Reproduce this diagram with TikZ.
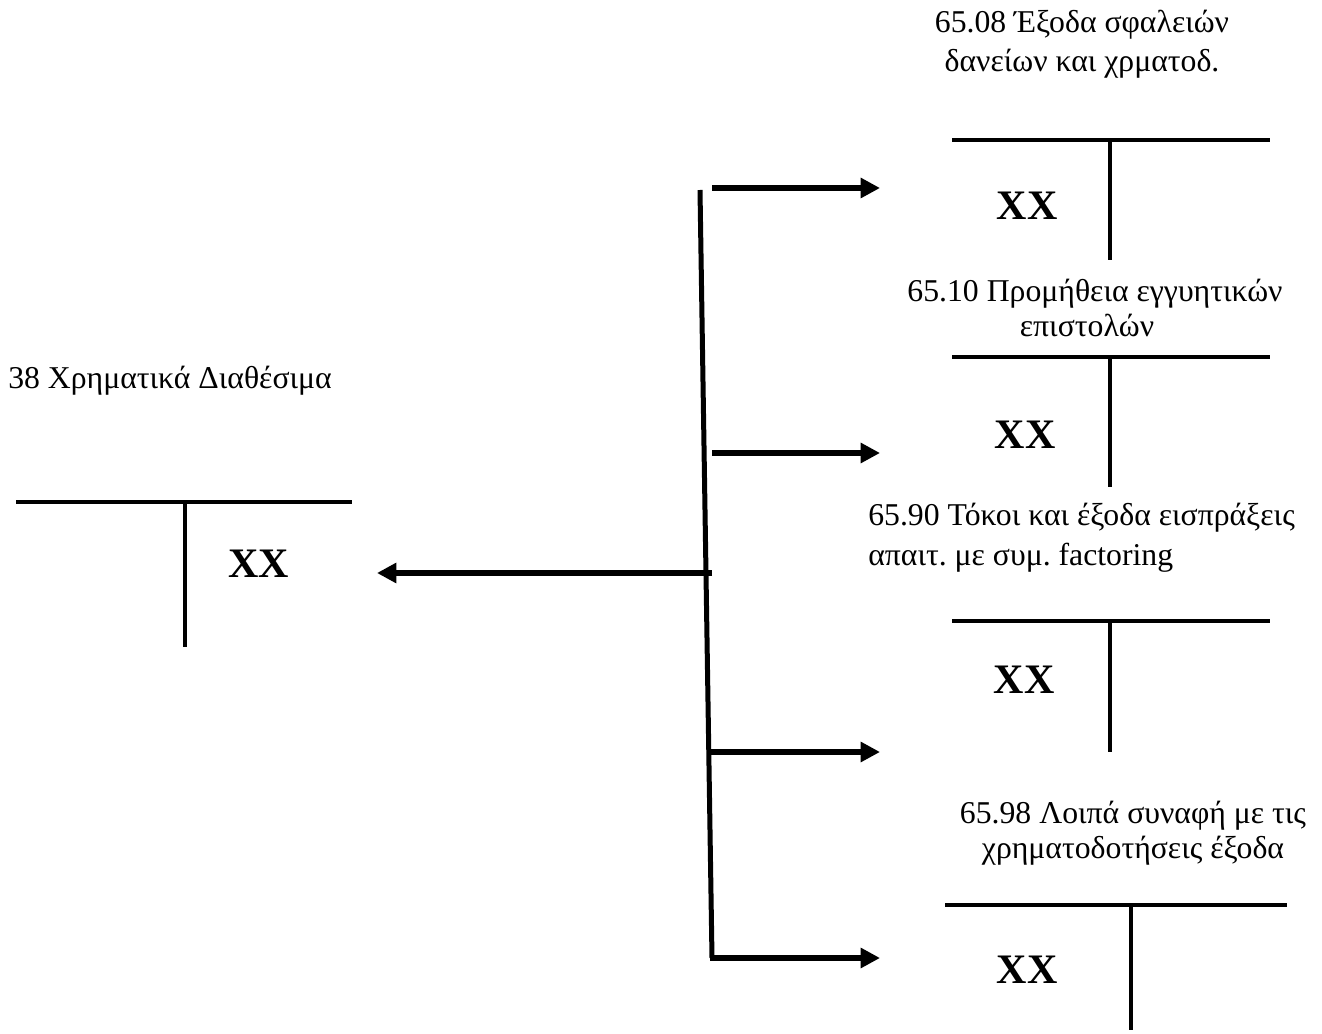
\documentclass[tikz,border=0pt]{standalone}
\usepackage{fontspec}
\setmainfont{Liberation Serif}
\usetikzlibrary{arrows.meta}
\frenchspacing
\begin{document}
\begin{tikzpicture}[x=0.75pt,y=-0.75pt,
  lbl/.style={font=\fontsize{23.8}{28}\selectfont, inner sep=0pt},
  xx/.style={font=\fontsize{31.5}{36}\selectfont\bfseries, inner sep=0pt},
  tline/.style={line width=3.2pt},
  conn/.style={line width=4pt, -{Triangle[length=14.5pt,width=14.5pt]}},
  bus/.style={line width=3.75pt}]
\useasboundingbox (0,0) rectangle (1322,1034);

% left account
\node[lbl, anchor=base west] (l0) at (8,389) {38 Χρηματικά Διαθέσιμα};
\draw[tline] (16,502) -- (352,502);
\draw[tline] (185,502) -- (185,647);
\node[xx] (x0) at (259,564) {XX};

% right account 1
\node[lbl, anchor=base] (l1a) at (1082,33) {65.08 Έξοδα σφαλειών};
\node[lbl, anchor=base] (l1b) at (1082,72) {δανείων και χρματοδ.};
\draw[tline] (952,140) -- (1270,140);
\draw[tline] (1110,140) -- (1110,260);
\node[xx] (x1) at (1027,206) {XX};

% right account 2
\node[lbl, anchor=base] (l2a) at (1095,302) {65.10 Προμήθεια εγγυητικών};
\node[lbl, anchor=base] (l2b) at (1087,337) {επιστολών};
\draw[tline] (952,357) -- (1270,357);
\draw[tline] (1110,357) -- (1110,487);
\node[xx] (x2) at (1025,435) {XX};

% right account 3
\node[lbl, anchor=base west] (l3a) at (868,525) {65.90 Τόκοι και έξοδα εισπράξεις};
\node[lbl, anchor=base west] (l3b) at (868,565) {απαιτ. με συμ. factoring};
\draw[tline] (952,621) -- (1270,621);
\draw[tline] (1110,621) -- (1110,752);
\node[xx] (x3) at (1024,680) {XX};

% right account 4
\node[lbl, anchor=base] (l4a) at (1133,823) {65.98 Λοιπά συναφή με τις};
\node[lbl, anchor=base] (l4b) at (1133,858) {χρηματοδοτήσεις έξοδα};
\draw[tline] (945,905) -- (1287,905);
\draw[tline] (1131,905) -- (1131,1030);
\node[xx] (x4) at (1027,970) {XX};

% bus and connectors
\coordinate (bustop) at (700,190);
\coordinate (busbot) at (712,958);
\draw[bus] (bustop) -- (busbot);

\coordinate (s0) at (712,573);
\coordinate (t0) at (377,573);
\coordinate (s1) at (712,188);
\coordinate (t1) at (880,188);
\coordinate (s2) at (712,453);
\coordinate (t2) at (880,453);
\coordinate (s3) at (710,752);
\coordinate (t3) at (880,752);
\coordinate (t4) at (880,958);

\draw[conn] (s0) -- (t0);
\draw[conn] (s1) -- (t1);
\draw[conn] (s2) -- (t2);
\draw[conn] (s3) -- (t3);
\draw[conn] ([xshift=-1.875pt]busbot) -- (t4);
\end{tikzpicture}
\end{document}
